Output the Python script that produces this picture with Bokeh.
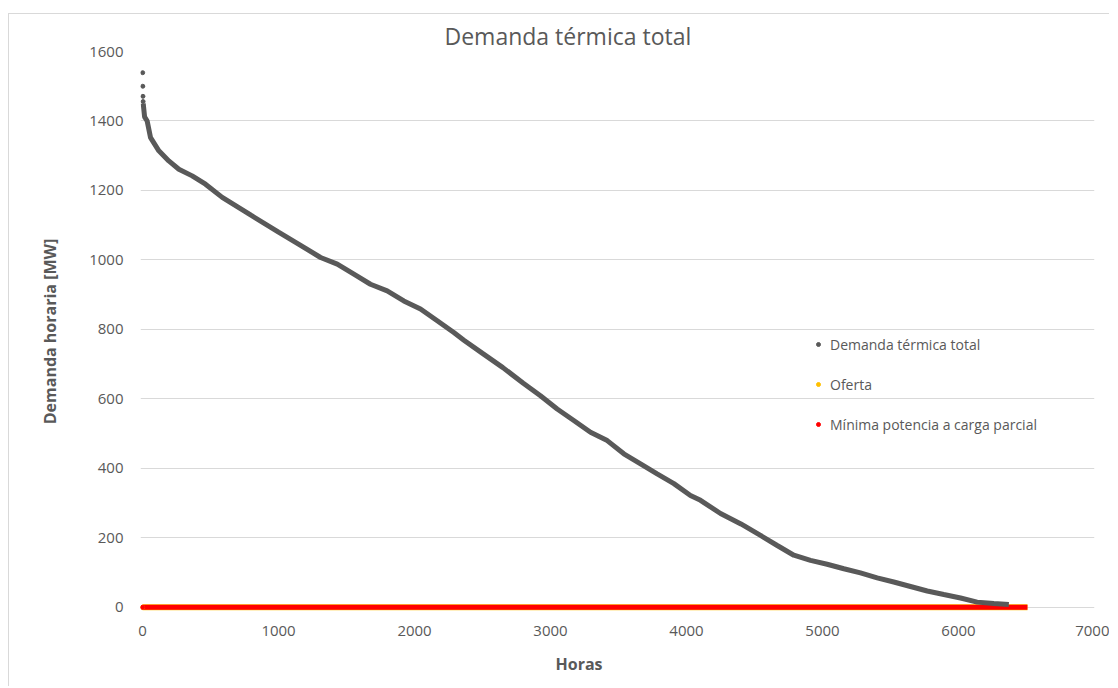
from bokeh.plotting import figure
from bokeh.models import Range1d, FixedTicker, Legend, LegendItem, Title
from bokeh.embed import file_html
from bokeh.resources import INLINE

# ---- data ----
peak_hours = [1, 2, 3, 4]
peak_mw = [1539, 1500, 1471, 1456]

demand_hours = [5, 15, 34, 59, 120, 193, 267, 365, 463, 586, 800, 1000, 1150,
                1309, 1432, 1554, 1676, 1799, 1921, 2044, 2167, 2289, 2363,
                2500, 2650, 2800, 2926, 3049, 3171, 3294, 3417, 3539, 3662,
                3784, 3907, 4029, 4103, 4250, 4400, 4544, 4667, 4789, 4912,
                5034, 5157, 5279, 5402, 5524, 5647, 5770, 5892, 6015, 6137,
                6260, 6370]
demand_mw = [1450, 1412, 1400, 1352, 1314, 1285, 1261, 1242, 1218, 1180, 1128,
             1080, 1045, 1007, 988, 959, 930, 911, 882, 859, 825, 791, 769,
             731, 690, 645, 609, 571, 538, 504, 480, 442, 413, 384, 356, 322,
             308, 270, 240, 207, 178, 150, 135, 124, 111, 99, 85, 73, 60, 47,
             37, 27, 15, 11, 8]

oferta_hours = [0, 6507]
oferta_mw = [0, 0]
minima_hours = [0, 6507]
minima_mw = [0, 0]

x_ticks = [0, 1000, 2000, 3000, 4000, 5000, 6000, 7000]
y_ticks = [0, 200, 400, 600, 800, 1000, 1200, 1400, 1600]

TXT = "#595959"
FONT = "Open Sans"

p = figure(width=1101, height=673, output_backend="svg", toolbar_location=None,
           x_range=Range1d(-15, 7000), y_range=Range1d(-12, 1600),
           min_border_left=131, min_border_right=16, min_border_top=37,
           min_border_bottom=76,
           title="Demanda térmica total",
           styles={"margin-top": "13px", "margin-left": "8px",
                   "border-left": "1px solid #d9d9d9",
                   "border-top": "1px solid #d9d9d9"})
p.outline_line_color = None
p.background_fill_color = "white"
p.border_fill_color = "white"

p.title.align = "left"
p.title.offset = 304
p.title.text_font = FONT
p.title.text_font_size = "23px"
p.title.text_font_style = "normal"
p.title.text_color = TXT
p.title.standoff = 0

p.xgrid.grid_line_color = None
p.ygrid.grid_line_color = "#d9d9d9"
p.ygrid.grid_line_width = 1

for ax in (p.xaxis[0], p.yaxis[0]):
    ax.axis_line_color = None
    ax.major_tick_line_color = None
    ax.minor_tick_line_color = None
    ax.major_label_text_color = TXT
    ax.major_label_text_font = FONT
    ax.major_label_text_font_size = "15px"
    ax.axis_label_text_color = TXT
    ax.axis_label_text_font = FONT
    ax.axis_label_text_font_size = "16px"
    ax.axis_label_text_font_style = "bold"
p.xaxis[0].ticker = FixedTicker(ticks=x_ticks)
p.yaxis[0].ticker = FixedTicker(ticks=y_ticks)
p.xaxis[0].major_label_standoff = 8
p.yaxis[0].major_label_standoff = 11
p.yaxis[0].axis_label = "Demanda horaria [MW]"
p.yaxis[0].axis_label_standoff = 25

xlabel = Title(text="Horas", align="left", offset=415, text_font=FONT,
               text_font_size="16px", text_font_style="bold", text_color=TXT,
               standoff=25)
p.add_layout(xlabel, "below")

# series
p.line(oferta_hours, oferta_mw, line_color="#ffc000", line_width=6)
p.line(minima_hours, minima_mw, line_color="#ff0000", line_width=5)
p.line(demand_hours, demand_mw, line_color="#595959", line_width=5)
dem_dots = p.scatter(peak_hours, peak_mw, size=4, color="#595959")
of_dots = p.scatter(oferta_hours[:1], oferta_mw[:1], size=4, color="#ffc000")
mi_dots = p.scatter(minima_hours[:1], minima_mw[:1], size=4, color="#ff0000")

legend = Legend(items=[
    LegendItem(label="Demanda térmica total", renderers=[dem_dots]),
    LegendItem(label="Oferta", renderers=[of_dots]),
    LegendItem(label="Mínima potencia a carga parcial", renderers=[mi_dots]),
], location=(673, 177))
legend.background_fill_alpha = 0
legend.border_line_color = None
legend.padding = 0
legend.margin = 0
legend.spacing = 20
legend.glyph_width = 10
legend.glyph_height = 20
legend.label_height = 20
legend.label_standoff = 7
legend.label_text_font = FONT
legend.label_text_font_size = "14px"
legend.label_text_color = TXT
p.add_layout(legend)

open("out.html", "w").write(file_html(p, INLINE))
